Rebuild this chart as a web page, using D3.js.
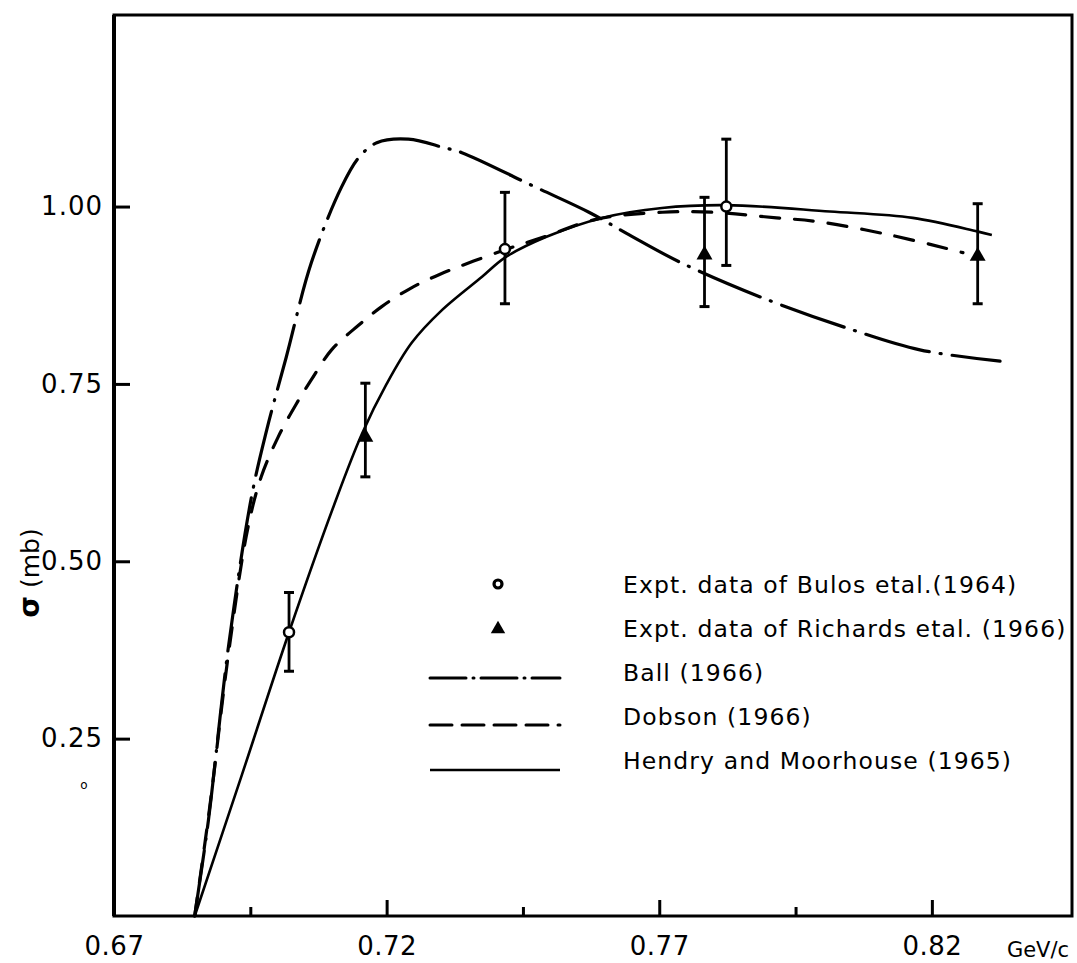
<!DOCTYPE html>
<html><head><meta charset="utf-8">
<script src="https://cdn.jsdelivr.net/npm/d3@7"></script>
<style>body{margin:0;background:#fff;} svg{display:block;}</style>
</head><body>
<svg id="c" width="1077" height="963"></svg>
<script>
// ---- data ----
const xTickValues = [0.67, 0.72, 0.77, 0.82];
const xMinorTicks = [0.695, 0.745, 0.795];
const yTickValues = [0.25, 0.50, 0.75, 1.00];
const xUnit = "GeV/c";
const yTitleSym = "σ";
const yTitleUnit = "(mb)";

const bulosX  = [0.7021, 0.7417, 0.7823];
const bulosY  = [0.400, 0.940, 1.000];
const bulosLo = [0.345, 0.863, 0.917];
const bulosHi = [0.456, 1.020, 1.095];

const richX  = [0.7161, 0.7783, 0.8284];
const richY  = [0.675, 0.932, 0.930];
const richLo = [0.619, 0.859, 0.863];
const richHi = [0.751, 1.013, 1.004];

const ballX = [0.6848, 0.6873, 0.691, 0.6952, 0.698, 0.7016, 0.7062, 0.7117, 0.7149, 0.7182, 0.724, 0.7305, 0.7338, 0.7474, 0.7571, 0.7645, 0.7737, 0.7884, 0.8055, 0.8178, 0.8325];
const ballY = [0, 0.134, 0.380, 0.590, 0.685, 0.788, 0.921, 1.027, 1.069, 1.090, 1.095, 1.083, 1.076, 1.027, 0.992, 0.960, 0.922, 0.873, 0.826, 0.798, 0.782];

const dobsonX = [0.6848, 0.6875, 0.691, 0.6945, 0.6970, 0.7001, 0.7033, 0.7062, 0.7099, 0.7149, 0.7191, 0.7240, 0.7296, 0.7417, 0.7492, 0.7584, 0.7706, 0.7797, 0.7915, 0.7988, 0.8123, 0.8257];
const dobsonY = [0, 0.150, 0.370, 0.545, 0.619, 0.675, 0.720, 0.756, 0.798, 0.833, 0.859, 0.883, 0.904, 0.939, 0.958, 0.982, 0.992, 0.992, 0.984, 0.979, 0.960, 0.935];

const hendryX = [0.6848, 0.6935, 0.7021, 0.7103, 0.7155, 0.7200, 0.7246, 0.7300, 0.7375, 0.7417, 0.7492, 0.7595, 0.7705, 0.7823, 0.8013, 0.8165, 0.8283, 0.8310];
const hendryY = [0, 0.200, 0.400, 0.578, 0.680, 0.750, 0.808, 0.853, 0.901, 0.928, 0.957, 0.984, 0.998, 1.002, 0.993, 0.984, 0.965, 0.960];

const legendLabels = [
  "Expt. data of Bulos etal.(1964)",
  "Expt. data of Richards etal. (1966)",
  "Ball (1966)",
  "Dobson (1966)",
  "Hendry and Moorhouse (1965)"
];

// ---- drawing ----
const svg = d3.select("#c");
const L = 114, R = 1072, T = 15, B = 916;
const x = d3.scaleLinear().domain([0.67, 0.8457]).range([L, R]);
const y = d3.scaleLinear().domain([0, 1.27]).range([B, T]);
const FONT = "DejaVu Sans, sans-serif";

// frame
svg.append("rect").attr("x", L).attr("y", T).attr("width", R - L).attr("height", B - T)
  .attr("fill", "none").attr("stroke", "#000").attr("stroke-width", 3);
svg.append("line").attr("x1", L).attr("x2", L).attr("y1", T).attr("y2", B)
  .attr("stroke", "#000").attr("stroke-width", 4);

// x axis
const gx = svg.append("g").attr("transform", `translate(0,${B})`)
  .call(d3.axisBottom(x).tickValues(xTickValues).tickFormat(d3.format(".2f"))
        .tickSize(-16).tickPadding(21));
gx.select(".domain").remove();
gx.selectAll(".tick line").attr("stroke-width", 3);
gx.selectAll(".tick text").attr("font-family", FONT).attr("font-size", 26)
  .attr("letter-spacing", 0.5).attr("fill", "#000");

const gxm = svg.append("g").attr("transform", `translate(0,${B})`)
  .call(d3.axisBottom(x).tickValues(xMinorTicks).tickFormat("").tickSize(-9));
gxm.select(".domain").remove();
gxm.selectAll(".tick line").attr("stroke-width", 3);

svg.append("text").attr("x", 1038).attr("y", 957).attr("text-anchor", "middle")
  .attr("font-family", FONT).attr("font-size", 21).text(xUnit);

// y axis
const gy = svg.append("g").attr("transform", `translate(${L},0)`)
  .call(d3.axisLeft(y).tickValues(yTickValues).tickFormat(d3.format(".2f"))
        .tickSize(-16).tickPadding(11));
gy.select(".domain").remove();
gy.selectAll(".tick line").attr("stroke-width", 3);
gy.selectAll(".tick text").attr("font-family", FONT).attr("font-size", 26)
  .attr("letter-spacing", 1).attr("fill", "#000");

const yt = svg.append("text").attr("transform", "translate(39,573) rotate(-90)")
  .attr("text-anchor", "middle").attr("font-family", FONT).attr("font-size", 25);
yt.append("tspan").attr("font-weight", "bold").attr("font-size", 28).text(yTitleSym);
yt.append("tspan").text(" " + yTitleUnit);
svg.append("text").attr("x", 84).attr("y", 789).attr("text-anchor", "middle")
  .attr("font-family", FONT).attr("font-size", 12).text("o");

// curves
const line = d3.line().x(d => x(d[0])).y(d => y(d[1])).curve(d3.curveCatmullRom.alpha(0.5));
const curves = [
  {xs: ballX, ys: ballY, dash: "66,11,1,11", w: 3.2},
  {xs: dobsonX, ys: dobsonY, dash: "19,15", w: 3.2},
  {xs: hendryX, ys: hendryY, dash: null, w: 2.6}
];
curves.forEach(c => {
  const pts = c.xs.map((v, i) => [v, c.ys[i]]);
  svg.append("path").attr("d", line(pts)).attr("fill", "none").attr("stroke", "#000")
    .attr("stroke-width", c.w).attr("stroke-dasharray", c.dash)
    .attr("stroke-linecap", c.dash ? "round" : "butt");
});

// error bars
function errorBars(xs, lo, hi) {
  xs.forEach((v, i) => {
    const cx = x(v);
    svg.append("line").attr("x1", cx).attr("x2", cx).attr("y1", y(lo[i])).attr("y2", y(hi[i]))
      .attr("stroke", "#000").attr("stroke-width", 2.8);
    [lo[i], hi[i]].forEach(e => {
      svg.append("line").attr("x1", cx - 5).attr("x2", cx + 5).attr("y1", y(e)).attr("y2", y(e))
        .attr("stroke", "#000").attr("stroke-width", 3);
    });
  });
}
errorBars(bulosX, bulosLo, bulosHi);
errorBars(richX, richLo, richHi);

// markers
bulosX.forEach((v, i) => {
  svg.append("circle").attr("cx", x(v)).attr("cy", y(bulosY[i])).attr("r", 5)
    .attr("fill", "#fff").attr("stroke", "#000").attr("stroke-width", 2.5);
});
const tri = d3.symbol().type(d3.symbolTriangle).size(110);
richX.forEach((v, i) => {
  svg.append("path").attr("d", tri()).attr("transform", `translate(${x(v)},${y(richY[i])})`)
    .attr("fill", "#000");
});

// legend
const lgX = 623, lgY0 = 593, lgDy = 44;
legendLabels.forEach((t, i) => {
  svg.append("text").attr("x", lgX).attr("y", lgY0 + i * lgDy)
    .attr("font-family", FONT).attr("font-size", 23.5).attr("letter-spacing", 1.1)
    .attr("fill", "#000").text(t);
});
svg.append("circle").attr("cx", 498).attr("cy", 584).attr("r", 4)
  .attr("fill", "#fff").attr("stroke", "#000").attr("stroke-width", 3.2);
svg.append("path").attr("d", d3.symbol().type(d3.symbolTriangle).size(90)())
  .attr("transform", "translate(498,629)").attr("fill", "#000");
const legLines = [
  {yy: 678, dash: "36,7,1,7", w: 3},
  {yy: 725, dash: "22,10", w: 3},
  {yy: 770, dash: null, w: 2.6}
];
legLines.forEach(l => {
  svg.append("line").attr("x1", 430).attr("x2", 560).attr("y1", l.yy).attr("y2", l.yy)
    .attr("stroke", "#000").attr("stroke-width", l.w).attr("stroke-dasharray", l.dash)
    .attr("stroke-linecap", l.dash ? "round" : "butt");
});
</script>
</body></html>
